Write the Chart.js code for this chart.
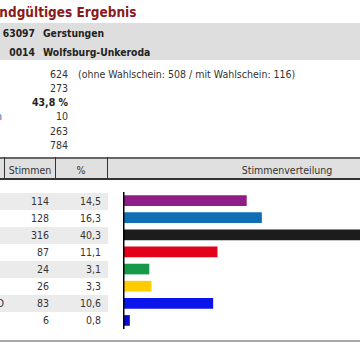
<!DOCTYPE html>
<html><head><meta charset="utf-8">
<script src="https://cdn.jsdelivr.net/npm/chart.js@4"></script>
<style>
html,body{margin:0;padding:0;background:#fff;}
#page{position:relative;width:360px;height:360px;overflow:hidden;font-family:"DejaVu Sans Condensed","DejaVu Sans",Verdana,sans-serif;font-size:10.5px;color:#333;}
.t{position:absolute;white-space:nowrap;line-height:14px;height:14px;z-index:3;}
.box{position:absolute;z-index:1;}
#chartWrap{position:absolute;left:123px;top:192px;width:342px;height:137px;z-index:2;}
</style></head>
<body>
<div id="page">
  <div id="chartWrap"><canvas id="c"></canvas></div>
</div>
<script>
// ---- data ----
const title = "Endgültiges Ergebnis";
const placeCodes = ["63097", "0014"];
const placeNames = ["Gerstungen", "Wolfsburg-Unkeroda"];
const statLabels = ["Wahlberechtigte", "Wähler", "Wahlbeteiligung", "ungültige Stimmen", "gültige Stimmzettel", "gültige Stimmen"];
const statValues = ["624", "273", "43,8 %", "10", "263", "784"];
const statNote = "(ohne Wahlschein: 508 / mit Wahlschein: 116)";
const headers = ["Stimmen", "%", "Stimmenverteilung"];
const parties = ["DIE LINKE", "FW", "CDU", "SPD", "GRÜNE", "FDP", "NPD", "Sonstige"];
const votes = [114, 128, 316, 87, 24, 26, 83, 6];
const percents = ["14,5", "16,3", "40,3", "11,1", "3,1", "3,3", "10,6", "0,8"];
const barColors = ["#8e1e86", "#106eb4", "#1c1c1c", "#e2001a", "#17994a", "#ffcc00", "#0a14eb", "#0a0ad2"];

// ---- layout helpers ----
const page = document.getElementById('page');
function box(x, y, w, h, bg) {
  const d = document.createElement('div'); d.className = 'box';
  Object.assign(d.style, {left: x + 'px', top: y + 'px', width: w + 'px', height: h + 'px', background: bg});
  page.appendChild(d); return d;
}
function txt(s, x, cy, align, extra) {
  const d = document.createElement('div'); d.className = 't'; d.textContent = s;
  const W = 400;
  let left = x;
  if (align === 'right') { left = x - W; d.style.textAlign = 'right'; }
  else if (align === 'center') { left = x - W / 2; d.style.textAlign = 'center'; }
  d.style.width = W + 'px';
  d.style.left = left + 'px'; d.style.top = (cy - 7) + 'px';
  if (extra) Object.assign(d.style, extra);
  page.appendChild(d); return d;
}

// title
txt(title, -9, 12, null, {fontWeight: 'bold', fontSize: '13.5px', color: '#8b1a1a', lineHeight: '14px'});
// place band
box(0, 23, 360, 37, '#dedede');
placeCodes.forEach((c, i) => {
  const cy = 33 + i * 19;
  txt(c, 35, cy, 'right', {fontWeight: 'bold', color: '#222', fontSize: '10.3px'});
  txt(placeNames[i], 43, cy, null, {fontWeight: 'bold', color: '#222', fontSize: '10.3px'});
});
// stats
statValues.forEach((v, i) => {
  const cy = 73.5 + i * 14.3;
  txt(v, 68, cy, 'right', i === 2 ? {fontWeight: 'bold', color: '#222'} : null);
  txt(statLabels[i], 2, cy, 'right', i === 3 ? {color: '#2a5fb0'} : {display: 'none'});
});
txt(statNote, 78, 73.5, null);

// header
box(0, 157, 360, 22, '#e0e0e0');
box(0, 157, 360, 1.5, '#666');
box(0, 178, 360, 1.5, '#333');
[4, 55, 107].forEach(x => box(x, 157, 1, 22, '#333'));
txt(headers[0], 30, 170, 'center');
txt(headers[1], 81, 170, 'center');
txt(headers[2], 287, 170, 'center');

// table rows
parties.forEach((p, i) => {
  const top = 192.5 + i * 17;
  if (i % 2 === 0) box(0, top, 108, 17, '#ebebeb');
  const cy = top + 8.5;
  txt(String(votes[i]), 49, cy, 'right');
  txt(percents[i], 101, cy, 'right');
  if (i === 6) txt(p, 4, cy, 'right');
});
// bottom rule
box(0, 340, 360, 2, '#a8a8a8');

// ---- chart ----
const axisLine = {
  id: 'axisLine',
  afterDatasetsDraw(chart) {
    const {ctx, chartArea} = chart;
    const x0 = chart.scales.x.getPixelForValue(0);
    ctx.save(); ctx.strokeStyle = '#000'; ctx.lineWidth = 1.5;
    ctx.beginPath(); ctx.moveTo(x0 + 0.75, chartArea.top); ctx.lineTo(x0 + 0.75, chartArea.bottom); ctx.stroke();
    ctx.restore();
  }
};
new Chart(document.getElementById('c'), {
  type: 'bar',
  data: {labels: parties, datasets: [{data: votes, backgroundColor: barColors, borderWidth: 0, barThickness: 10}]},
  options: {
    indexAxis: 'y', responsive: true, maintainAspectRatio: false, animation: false,
    layout: {padding: 0},
    plugins: {legend: {display: false}, tooltip: {enabled: false}},
    scales: {
      x: {display: false, min: 0, max: Math.max(...votes)},
      y: {display: false}
    }
  },
  plugins: [axisLine]
});
</script>
</body></html>
